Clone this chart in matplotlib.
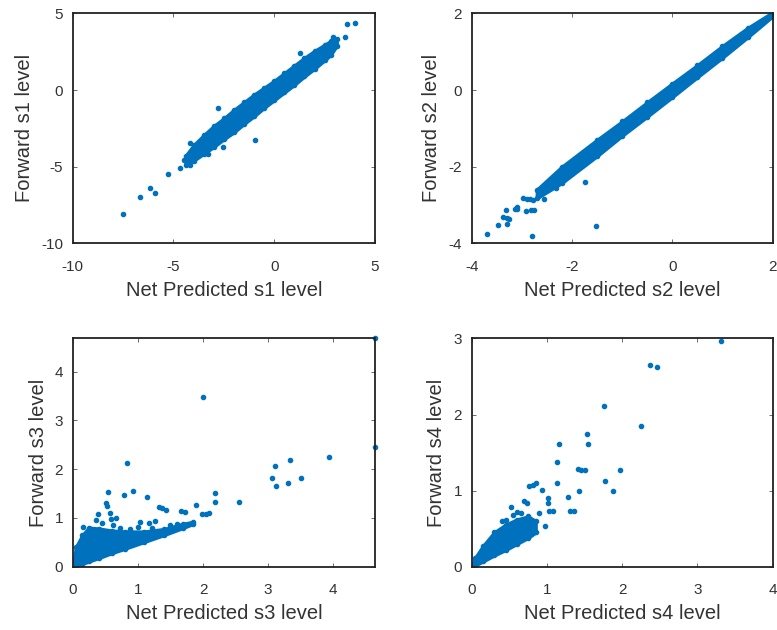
import numpy as np
import matplotlib.pyplot as plt

plt.rcParams['font.family'] = ['Liberation Sans', 'DejaVu Sans']
plt.rcParams['axes.unicode_minus'] = False

# s1: dense band (x, lower edge, upper edge) and stray points
s1_band_x = [-4.4, -4.0, -3.5, -3.0, -2.5, -2.0, -1.5, -1.0, -0.5, 0.0, 0.5, 1.0, 1.5, 2.0, 2.5, 2.8, 3.1]
s1_band_lo = [-4.9, -4.6, -4.15, -3.7, -3.2, -2.75, -2.2, -1.7, -1.15, -0.65, -0.15, 0.35, 0.9, 1.4, 1.95, 2.3, 2.9]
s1_band_hi = [-4.3, -3.6, -2.95, -2.35, -1.85, -1.3, -0.8, -0.3, 0.15, 0.6, 1.1, 1.6, 2.1, 2.55, 2.95, 3.2, 3.35]
s1_pts_x = [-7.52, -6.66, -6.16, -5.92, -5.25, -4.68, -4.46, -4.18, -4.18, -3.27, -2.77, -2.56, -0.95, 1.28, 2.93, 3.51, 3.59, 4.0]
s1_pts_y = [-8.09, -6.96, -6.41, -6.74, -5.48, -5.07, -4.57, -4.89, -3.48, -4.17, -1.2, -3.7, -3.26, 2.39, 3.48, 3.48, 4.3, 4.35]

# s2
s2_band_x = [-2.7, -2.2, -1.5, -1.0, -0.5, 0.0, 0.5, 1.0, 1.5, 2.0]
s2_band_lo = [-2.82, -2.42, -1.72, -1.19, -0.69, -0.18, 0.34, 0.85, 1.38, 1.93]
s2_band_hi = [-2.6, -2.0, -1.3, -0.82, -0.32, 0.17, 0.65, 1.15, 1.62, 2.03]
s2_pts_x = [-3.69, -3.48, -3.29, -3.37, -3.30, -3.25, -3.32, -3.14, -3.09, -3.10, -2.92, -2.82, -2.75,
            -2.80, -2.98, -2.90, -2.84, -2.77, -2.56, -2.31, -1.74, -1.52]
s2_pts_y = [-3.76, -3.52, -3.50, -3.32, -3.35, -3.37, -3.13, -3.10, -3.11, -3.06, -3.15, -3.13, -3.13,
            -3.81, -2.82, -2.85, -2.84, -2.87, -2.85, -2.56, -2.40, -3.55]

# s3
s3_band_x = [0.0, 0.05, 0.15, 0.25, 0.4, 0.6, 0.8, 1.1, 1.4, 1.7, 1.85]
s3_band_lo = [0.0, 0.02, 0.06, 0.11, 0.18, 0.28, 0.37, 0.51, 0.65, 0.80, 0.88]
s3_band_hi = [0.0, 0.4, 0.65, 0.8, 0.78, 0.74, 0.72, 0.72, 0.77, 0.88, 0.92]
s3_pts_x = [0.54, 0.79, 0.93, 1.14, 0.51, 0.52, 0.57, 0.39, 0.16, 1.32, 1.37, 1.43, 1.89, 2.19, 2.19,
            2.55, 1.66, 1.73, 1.99, 2.04, 2.09, 0.58, 0.66, 1.04, 1.17, 1.27, 2.00, 0.83, 4.64, 4.64,
            3.93, 3.33, 3.11, 3.06, 3.12, 3.30, 3.50, 0.35, 0.45, 0.62, 0.72, 0.88, 1.0, 1.22, 1.5, 1.6]
s3_pts_y = [1.54, 1.47, 1.56, 1.42, 1.30, 1.25, 1.11, 1.09, 0.82, 1.23, 1.20, 1.16, 1.27, 1.52, 1.33,
            1.33, 1.15, 1.13, 1.08, 1.09, 1.11, 0.97, 0.99, 0.92, 0.90, 0.94, 3.48, 2.12, 4.70, 2.46,
            2.25, 2.19, 2.06, 1.81, 1.66, 1.71, 1.81, 0.95, 0.90, 0.85, 0.80, 0.78, 0.82, 0.80, 0.85, 0.88]

# s4
s4_band_x = [0.0, 0.05, 0.15, 0.3, 0.45, 0.6, 0.75, 0.85]
s4_band_lo = [0.0, 0.02, 0.07, 0.15, 0.22, 0.30, 0.38, 0.45]
s4_band_hi = [0.0, 0.12, 0.27, 0.45, 0.55, 0.62, 0.66, 0.60]
s4_pts_x = [3.31, 2.37, 2.46, 1.76, 2.25, 1.53, 1.16, 1.55, 1.13, 1.14, 1.41, 1.45, 1.50, 1.97, 1.77,
            1.88, 1.43, 1.28, 1.31, 1.36, 0.76, 0.81, 0.86, 0.93, 1.01, 1.01, 1.08, 1.03, 0.90, 0.97,
            0.83, 0.52, 0.69, 0.74, 0.4, 0.55, 0.65, 0.7, 0.6, 0.45]
s4_pts_y = [2.97, 2.65, 2.63, 2.11, 1.85, 1.74, 1.61, 1.61, 1.37, 1.10, 1.28, 1.27, 1.27, 1.27, 1.13,
            1.00, 1.00, 0.92, 0.73, 0.73, 1.06, 1.08, 1.10, 1.01, 0.90, 0.84, 0.73, 0.73, 0.71, 0.54,
            0.48, 0.78, 0.86, 0.84, 0.60, 0.68, 0.70, 0.62, 0.72, 0.62]

panels = [
    ('s1', s1_band_x, s1_band_lo, s1_band_hi, s1_pts_x, s1_pts_y, (-10, 5), (-10, 5), [-10, -5, 0, 5], [-10, -5, 0, 5]),
    ('s2', s2_band_x, s2_band_lo, s2_band_hi, s2_pts_x, s2_pts_y, (-4, 2), (-4, 2), [-4, -2, 0, 2], [-4, -2, 0, 2]),
    ('s3', s3_band_x, s3_band_lo, s3_band_hi, s3_pts_x, s3_pts_y, (0, 4.64), (0, 4.68), [0, 1, 2, 3, 4], [0, 1, 2, 3, 4]),
    ('s4', s4_band_x, s4_band_lo, s4_band_hi, s4_pts_x, s4_pts_y, (0, 4), (0, 3), [0, 1, 2, 3, 4], [0, 1, 2, 3]),
]

positions = [
    [0.0936, 0.6138, 0.389, 0.3648],
    [0.607, 0.6138, 0.3874, 0.3648],
    [0.0936, 0.1005, 0.389, 0.3622],
    [0.607, 0.1005, 0.3874, 0.3622],
]

blue = '#0072BD'
txt = '#333333'

fig = plt.figure(figsize=(7.77, 6.3), dpi=100)
for pos, (name, bx, blo, bhi, px, py, xl, yl, xt, yt) in zip(positions, panels):
    ax = fig.add_axes(pos)
    ax.fill_between(bx, blo, bhi, color=blue, lw=2.5, edgecolor=blue)
    ax.plot(bx, blo, '.', color=blue, ms=6)
    ax.plot(bx, bhi, '.', color=blue, ms=6)
    ax.plot(px, py, '.', color=blue, ms=6, clip_on=False)
    ax.set_xlim(xl)
    ax.set_ylim(yl)
    ax.set_xticks(xt)
    ax.set_yticks(yt)
    ax.tick_params(direction='in', top=True, right=True, length=3, width=0.6,
                   labelsize=11, labelcolor=txt, color='#555555')
    ax.tick_params(axis='x', pad=12)
    ax.tick_params(axis='y', pad=7)
    for sp in ax.spines.values():
        sp.set_linewidth(1.3)
        sp.set_color('#222222')
    ax.set_xlabel('Net Predicted %s level' % name, fontsize=14.5, color=txt, labelpad=5)
    ax.set_ylabel('Forward %s level' % name, fontsize=14.5, color=txt, labelpad=5)

fig.savefig('out.png', dpi=100)
